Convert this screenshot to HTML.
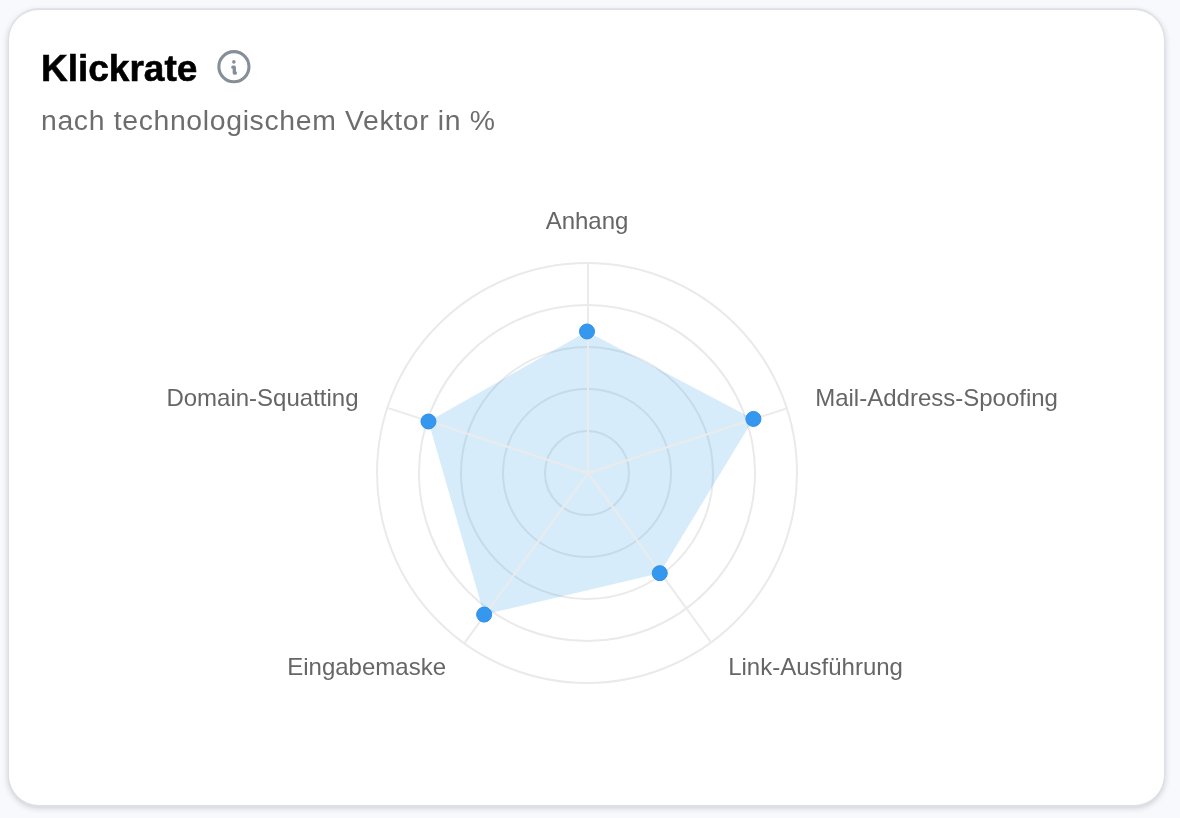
<!DOCTYPE html>
<html lang="de">
<head>
<meta charset="utf-8">
<title>Klickrate</title>
<style>
  html, body { margin: 0; padding: 0; }
  body {
    width: 1180px; height: 818px; overflow: hidden;
    background: #f8f9fc;
    font-family: "Liberation Sans", sans-serif;
    position: relative;
  }
  .card {
    position: absolute; left: 8px; top: 9px;
    width: 1155px; height: 795px;
    background: #ffffff;
    border: 1px solid #dcdfe4;
    border-radius: 31px;
    box-shadow: 0 -1px 0 0 #e0e3e8, 0 2px 0 0 #dcdfe4, 0 2px 6px rgba(0, 19, 48, 0.19);
  }
  h2.title {
    position: absolute; left: 41px; top: 47px; margin: 0;
    font-size: 37px; line-height: 44px; font-weight: 700; color: #000;
    -webkit-text-stroke: 0.6px #000;
    letter-spacing: 0; white-space: nowrap;
    transform: scaleX(1.0); transform-origin: 0 50%;
  }
  p.sub {
    position: absolute; left: 41px; top: 104.7px; margin: 0;
    font-size: 26.5px; line-height: 32px; font-weight: 400; color: #6d6d6d;
    letter-spacing: 0.62px; white-space: nowrap;
    transform: scale(1.07, 1.025); transform-origin: 0 79%;
  }
  svg.info { position: absolute; left: 213px; top: 46px; width: 42px; height: 42px; }
  svg.chart { position: absolute; left: 0; top: 0; width: 1180px; height: 818px; }
  svg.chart text { font-family: "Liberation Sans", sans-serif; font-size: 24px; fill: #666; }
</style>
</head>
<body>
<div class="card"></div>
<h2 class="title">Klickrate</h2>
<svg class="info" viewBox="213 46 42 42" aria-hidden="true">
  <circle cx="233.9" cy="66.7" r="15.05" fill="none" stroke="#868f99" stroke-width="3.1"/>
  <circle cx="233.9" cy="61.9" r="1.8" fill="#868f99"/>
  <path d="M232.8 67.2h1.5v5.8h1.1" fill="none" stroke="#868f99" stroke-width="3.3" stroke-linecap="round" stroke-linejoin="round"/>
</svg>
<p class="sub">nach technologischem Vektor in %</p>
<svg class="chart" viewBox="0 0 1180 818">
  <g fill="none" stroke="#eaeaea" stroke-width="2">
    <circle cx="587.0" cy="473.0" r="42"/>
    <circle cx="587.0" cy="473.0" r="84"/>
    <circle cx="587.0" cy="473.0" r="126"/>
    <circle cx="587.0" cy="473.0" r="168"/>
    <circle cx="587.0" cy="473.0" r="210"/>
  </g>
  <polygon fill="rgba(54,162,235,0.2)" points="587.00,331.50 753.43,418.92 659.77,573.16 484.14,614.58 428.46,421.49"/>
  <g fill="none" stroke="#ebebeb" stroke-width="2">
    <line x1="588.0" y1="473.0" x2="588.00" y2="263.00"/>
    <line x1="588.0" y1="473.0" x2="787.72" y2="408.11"/>
    <line x1="588.0" y1="473.0" x2="711.43" y2="642.89"/>
    <line x1="588.0" y1="473.0" x2="464.57" y2="642.89"/>
    <line x1="588.0" y1="473.0" x2="388.28" y2="408.11"/>
  </g>
  <g fill="#3598ee" stroke="#2b8fe9" stroke-width="1">
    <circle cx="587.00" cy="331.50" r="7.5"/>
    <circle cx="753.43" cy="418.92" r="7.5"/>
    <circle cx="659.77" cy="573.16" r="7.5"/>
    <circle cx="484.14" cy="614.58" r="7.5"/>
    <circle cx="428.46" cy="421.49" r="7.5"/>
  </g>
  <text x="587" y="229" text-anchor="middle">Anhang</text>
  <text x="815.2" y="405.5" text-anchor="start">Mail-Address-Spoofing</text>
  <text x="728.2" y="675" text-anchor="start">Link-Ausführung</text>
  <text x="446" y="675" text-anchor="end">Eingabemaske</text>
  <text x="358.5" y="405.5" text-anchor="end">Domain-Squatting</text>
</svg>
</body>
</html>
